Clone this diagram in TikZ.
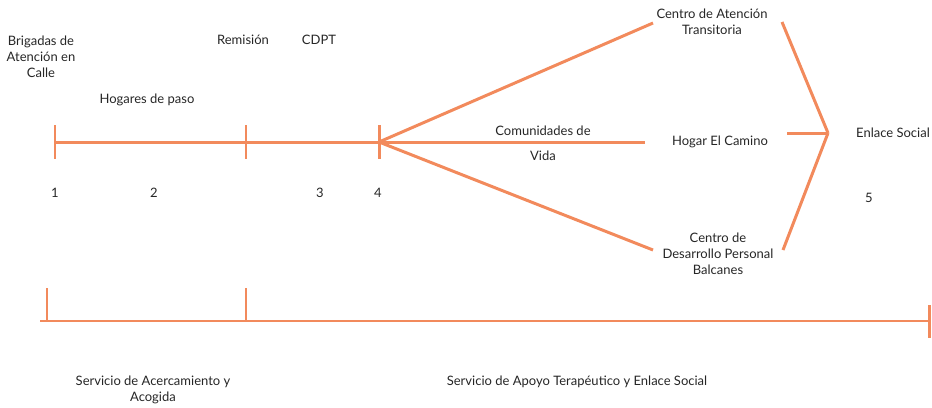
\documentclass[tikz,border=0pt]{standalone}
\usepackage{fontspec}
\setmainfont{Lato}
\usepackage{tikz}
\usetikzlibrary{positioning}
\definecolor{rutaorange}{RGB}{242,138,92}
\tikzset{
  tramo/.style={rutaorange,line width=1.7pt},
  tramofino/.style={rutaorange,line width=1.1pt},
  etiqueta/.style={font=\fontsize{7.4}{9.2}\selectfont,align=center,inner sep=1pt,text=black!85}
}

\begin{document}
\begin{tikzpicture}[x=0.02cm,y=-0.02cm]
        \useasboundingbox (0,0) rectangle (932,407);
        % upper route
        \coordinate (p1) at (55,142);
        \coordinate (p2) at (246,142);
        \coordinate (p4) at (379,142);
        \coordinate (cat-w) at (653,23);
        \coordinate (vida-e) at (645,142);
        \coordinate (cdp-w) at (653,250);
        \coordinate (cat-e) at (782,22);
        \coordinate (hec-e) at (787,133);
        \coordinate (cdp-e) at (783,250);
        \coordinate (enlace) at (828,133);
        \draw[tramo] (p1) -- (p2) -- (p4);
        \foreach \p in {p1,p2,p4}
          \draw[tramo] (\p) ++(0,-17) -- ++(0,34);
        \draw[tramo] (p4) -- (cat-w);
        \draw[tramo] (p4) -- (vida-e);
        \draw[tramo] (p4) -- (cdp-w);
        \draw[tramo] (cat-e) -- (enlace);
        \draw[tramo] (hec-e) -- (enlace);
        \draw[tramo] (cdp-e) -- (enlace);
        \node[etiqueta] (brigadas) at (41,57) {Brigadas de\\Atención en\\Calle};
        \node[etiqueta] (hogares) at (147,100) {Hogares de paso};
        \node[etiqueta] (remision) at (243,40) {Remisión};
        \node[etiqueta] (cdpt) at (319,40) {CDPT};
        \node[etiqueta] (cat) at (712,22) {Centro de Atención\\Transitoria};
        \node[etiqueta] (vida) at (543,143) {Comunidades de\\[5pt]Vida};
        \node[etiqueta] (hec) at (720,142) {Hogar El Camino};
        \node[etiqueta] (cdp) at (718,254) {Centro de\\Desarrollo Personal\\Balcanes};
        \node[etiqueta] (es) at (893,133) {Enlace Social};
        \node[etiqueta] (n1) at (55,193) {1};
        \node[etiqueta] (n2) at (154,193) {2};
        \node[etiqueta] (n3) at (320,193) {3};
        \node[etiqueta] (n4) at (378,193) {4};
        \node[etiqueta] (n5) at (869,198) {5};
        % lower route
        \coordinate (q0) at (40,321);
        \coordinate (q1) at (47,321);
        \coordinate (q2) at (246,321);
        \coordinate (q3) at (929,321);
        \draw[tramofino] (q0) -- (q3);
        \draw[tramofino] (q1) -- ++(0,-33);
        \draw[tramofino] (q2) -- ++(0,-33);
        \draw[tramo] (q3) ++(0,-16) -- ++(0,33);
        \node[etiqueta] (acercamiento) at (153,390) {Servicio de Acercamiento y\\Acogida};
        \node[etiqueta] (apoyo) at (577,382) {Servicio de Apoyo Terapéutico y Enlace Social};
\end{tikzpicture}
\end{document}
